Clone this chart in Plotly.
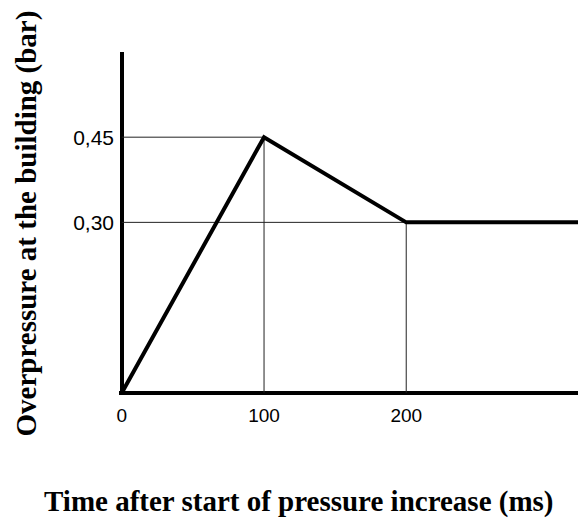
import plotly.graph_objects as go

# Data
time_ms = [0, 100, 200, 321]
overpressure_bar = [0.0, 0.45, 0.30, 0.30]
x_tick_vals = [0, 100, 200]
x_tick_text = ["0", "100", "200"]
y_tick_vals = [0.30, 0.45]
y_tick_text = ["0,30", "0,45"]
x_title = "Time after start of pressure increase (ms)"
y_title = "Overpressure at the building (bar)"

# guide points (peak and plateau start)
guide_pts = [(time_ms[1], overpressure_bar[1]), (time_ms[2], overpressure_bar[2])]

fig = go.Figure()

guide_color = "#222222"
for gx, gy in guide_pts:
    fig.add_trace(go.Scatter(x=[0, gx, gx], y=[gy, gy, 0], mode="lines",
                             line=dict(color=guide_color, width=1),
                             hoverinfo="skip", showlegend=False))

fig.add_trace(go.Scatter(x=time_ms, y=overpressure_bar, mode="lines",
                         line=dict(color="black", width=4),
                         showlegend=False))

W, H = 578, 520
ml, mr, mt, mb = 119, 0, 52, 125
pw = W - ml - mr
ph = H - mt - mb

fig.update_layout(
    width=W, height=H,
    margin=dict(l=ml, r=mr, t=mt, b=mb),
    paper_bgcolor="white", plot_bgcolor="white",
    showlegend=False,
    xaxis=dict(range=[-2, 320.8], showgrid=False, zeroline=True,
               zerolinecolor="black", zerolinewidth=4,
               tickvals=x_tick_vals, ticktext=x_tick_text,
               tickfont=dict(family="Liberation Sans, Arial", size=19, color="black"),
               ticks="", ticklabelstandoff=7, showline=False),
    yaxis=dict(range=[-0.004, 0.6], showgrid=False, zeroline=True,
               zerolinecolor="black", zerolinewidth=4,
               tickvals=y_tick_vals, ticktext=y_tick_text,
               tickfont=dict(family="Liberation Sans, Arial", size=21, color="black"),
               ticks="", ticklabelstandoff=4, showline=False),
    annotations=[
        dict(text="<b>" + x_title + "</b>", xref="paper", yref="paper",
             x=(299 - ml) / pw, y=(H - mb - 501) / ph, showarrow=False,
             xanchor="center", yanchor="middle",
             font=dict(family="Liberation Serif, Times New Roman", size=29, color="black")),
        dict(text="<b>" + y_title + "</b>", xref="paper", yref="paper",
             x=(26 - ml) / pw, y=(H - mb - 223.5) / ph, showarrow=False,
             textangle=-90, xanchor="center", yanchor="middle",
             font=dict(family="Liberation Serif, Times New Roman", size=29, color="black")),
    ],
)

fig.write_html(
    "out.html",
    config={"displayModeBar": False},
    post_script="document.body.style.margin='0';document.body.style.overflow='hidden';",
)
